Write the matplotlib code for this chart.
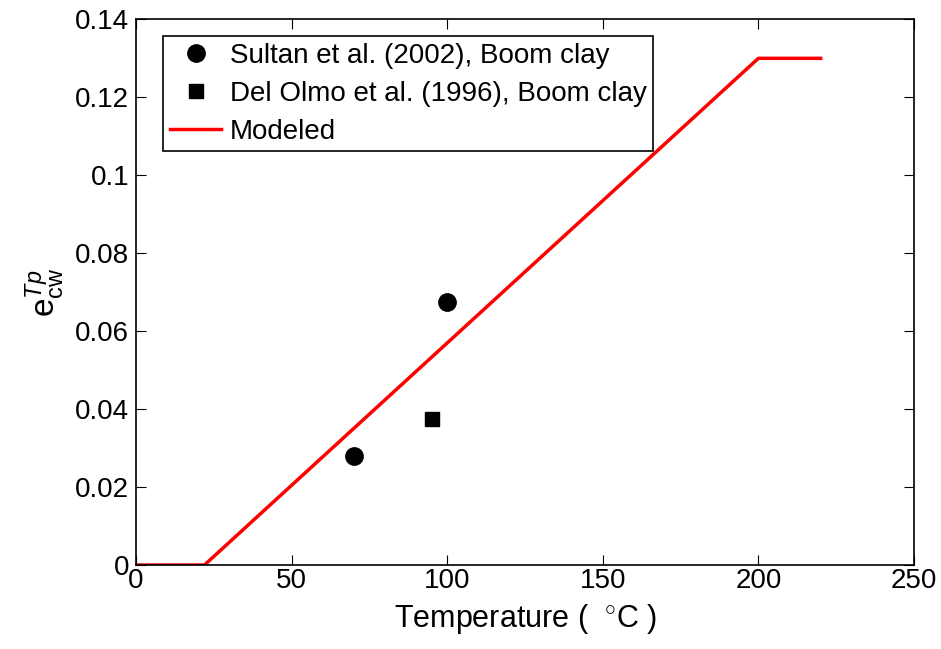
import matplotlib.pyplot as plt
import numpy as np

plt.rcParams['font.family'] = ['Liberation Sans', 'DejaVu Sans']
plt.rcParams['mathtext.fontset'] = 'custom'
plt.rcParams['mathtext.rm'] = 'Liberation Sans'
plt.rcParams['mathtext.it'] = 'Liberation Sans:italic'

# measured points
sultan_T = [70, 100]
sultan_e = [0.028, 0.0674]
olmo_T = [95]
olmo_e = [0.0375]

# model
model_T = [0, 22, 200, 220]
model_e = [0, 0, 0.13, 0.13]

fig = plt.figure(figsize=(9.41, 6.49), dpi=100)
ax = fig.add_axes([0.1445, 0.1294, 0.8268, 0.8408])

ax.plot(sultan_T, sultan_e, 'o', c='k', ms=12.5, label='Sultan et al. (2002), Boom clay')
ax.plot(olmo_T, olmo_e, 's', c='k', ms=10, label='Del Olmo et al. (1996), Boom clay')
ax.plot(model_T, model_e, c='r', lw=2.5, label='Modeled')

ax.set_xlim(0, 250)
ax.set_ylim(0, 0.14)
ax.set_xticks(np.arange(0, 251, 50))
ax.set_yticks(np.arange(0, 0.141, 0.02))
ax.set_yticklabels(['0', '0.02', '0.04', '0.06', '0.08', '0.1', '0.12', '0.14'])
ax.tick_params(direction='in', top=True, right=True, length=7, labelsize=20)
ax.tick_params(axis='x', pad=2)
ax.tick_params(axis='y', pad=5)
for s in ax.spines.values():
    s.set_linewidth(1.2)

ax.set_xlabel('Temperature (  $^{\\circ}$C )', fontsize=22, labelpad=6)
ax.set_ylabel('$\\mathrm{e}_{\\mathrm{cw}}^{Tp}$', fontsize=24, labelpad=6)

leg = ax.legend(loc='upper left', bbox_to_anchor=(0.0347, 0.969), fontsize=20,
                frameon=True, fancybox=False, edgecolor='k', framealpha=1,
                handlelength=1.85, handletextpad=0.3, borderpad=0.25, labelspacing=0.42,
                borderaxespad=0)
leg.get_frame().set_linewidth(1.2)

plt.savefig('out.png')
